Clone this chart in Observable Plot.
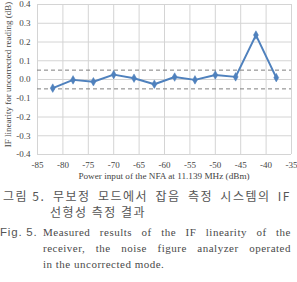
<!DOCTYPE html>
<html>
<head>
<meta charset="utf-8">
<script src="https://cdn.jsdelivr.net/npm/d3@7"></script>
<script src="https://cdn.jsdelivr.net/npm/@observablehq/plot@0.6"></script>
<style>
  body { margin: 0; background: #fff; width: 297px; height: 282px; overflow: hidden; }
  #chart svg { display: block; }
  #xtitle { width: 266px; padding-left: 31px; height: 12px; line-height: 12px; text-align: center;
            font-family: "Liberation Serif", serif; font-size: 9.2px; color: #444; white-space: nowrap; }
  .cap { position: relative; height: 100px; color: #555; }
  .cap div { position: absolute; white-space: nowrap; }
  .ko { font-family: "Noto Sans CJK KR", sans-serif; font-size: 12px; line-height: 15px; letter-spacing: 1.5px; }
  .en { font-family: "Liberation Serif", serif; font-size: 11px; line-height: 15px; letter-spacing: 0.5px; color: #4a4a4a; }
  .fig { font-family: "Liberation Sans", sans-serif; font-size: 11.5px; line-height: 15px; letter-spacing: 0.8px; }
  .just { white-space: normal !important; text-align: justify; text-align-last: justify; }
</style>
</head>
<body>
<div id="chart"></div>
<div id="xtitle"></div>
<div class="cap">
  <div class="ko" style="left:3px; top:6px;">그림 5.</div>
  <div class="ko just" style="left:53px; top:6px; width:238px;">무보정 모드에서 잡음 측정 시스템의 IF</div>
  <div class="ko" style="left:50px; top:22px;">선형성 측정 결과</div>
  <div class="fig" style="left:0px; top:43px;">Fig. 5.</div>
  <div class="en just" style="left:43px; top:43px; width:248px;">Measured results of the IF linearity of the</div>
  <div class="en just" style="left:43px; top:59px; width:248px;">receiver, the noise figure analyzer operated</div>
  <div class="en" style="left:43px; top:75px;">in the uncorrected mode.</div>
</div>
<script>
// Input power of the NFA (dBm) and measured IF linearity (dB)
const powerIn = [-82, -78, -74, -70, -66, -62, -58, -54, -50, -46, -42, -38];
const linearity = [-0.046, -0.002, -0.012, 0.026, 0.007, -0.025, 0.013, -0.002, 0.024, 0.014, 0.237, 0.010];

// Specification limits drawn as dashed lines
const limits = [0.05, -0.05];

// Axis ticks
const xTicks = [-85, -80, -75, -70, -65, -60, -55, -50, -45, -40, -35];
const yTicks = [-0.4, -0.3, -0.2, -0.1, 0.0, 0.1, 0.2, 0.3, 0.4];

const xTitle = "Power input of the NFA at 11.139 MHz (dBm)";
const yTitle = "IF linearity for uncorrected reading (dB)";

const data = powerIn.map((p, i) => ({p, v: linearity[i]}));
const blue = "#4f81bd";

const xMin = xTicks[0], xMax = xTicks[xTicks.length - 1];
const yMin = yTicks[0], yMax = yTicks[yTicks.length - 1];

const chart = Plot.plot({
  width: 297,
  height: 170,
  marginLeft: 37,
  marginRight: 6,
  marginTop: 4,
  marginBottom: 16,
  style: {fontFamily: "Liberation Serif", fontSize: "9px", color: "#444", background: "#fff"},
  x: {domain: [xMin, xMax], label: null},
  y: {domain: [yMin, yMax], label: null},
  marks: [
    Plot.gridX(xTicks, {stroke: "#d4d4d4", strokeOpacity: 1}),
    Plot.gridY(yTicks, {stroke: "#d4d4d4", strokeOpacity: 1}),
    Plot.axisX(xTicks, {tickSize: 0, tickPadding: 7, tickFormat: d => String(d), label: null}),
    Plot.axisY(yTicks, {tickSize: 0, tickPadding: 7, tickFormat: d => d.toFixed(1), label: null}),
    Plot.ruleY(limits, {stroke: "#7f7f7f", strokeWidth: 1, strokeDasharray: "4,3"}),
    Plot.line(data, {x: "p", y: "v", stroke: blue, strokeWidth: 2}),
    Plot.dot(data, {x: "p", y: "v", symbol: "diamond", r: 2.6, fill: blue, stroke: blue, strokeWidth: 0.5}),
    // vertical axis title, centred on the plot frame
    Plot.text([yTitle], {x: () => xMin, y: () => (yMin + yMax) / 2, dx: -29, dy: -5, rotate: -90, text: d => d,
      textAnchor: "middle", lineAnchor: "middle", fontSize: 9, fill: "#444"})
  ]
});
document.getElementById("chart").append(chart);
// horizontal axis title sits just under the tick labels
document.getElementById("xtitle").textContent = xTitle;
</script>
</body>
</html>
